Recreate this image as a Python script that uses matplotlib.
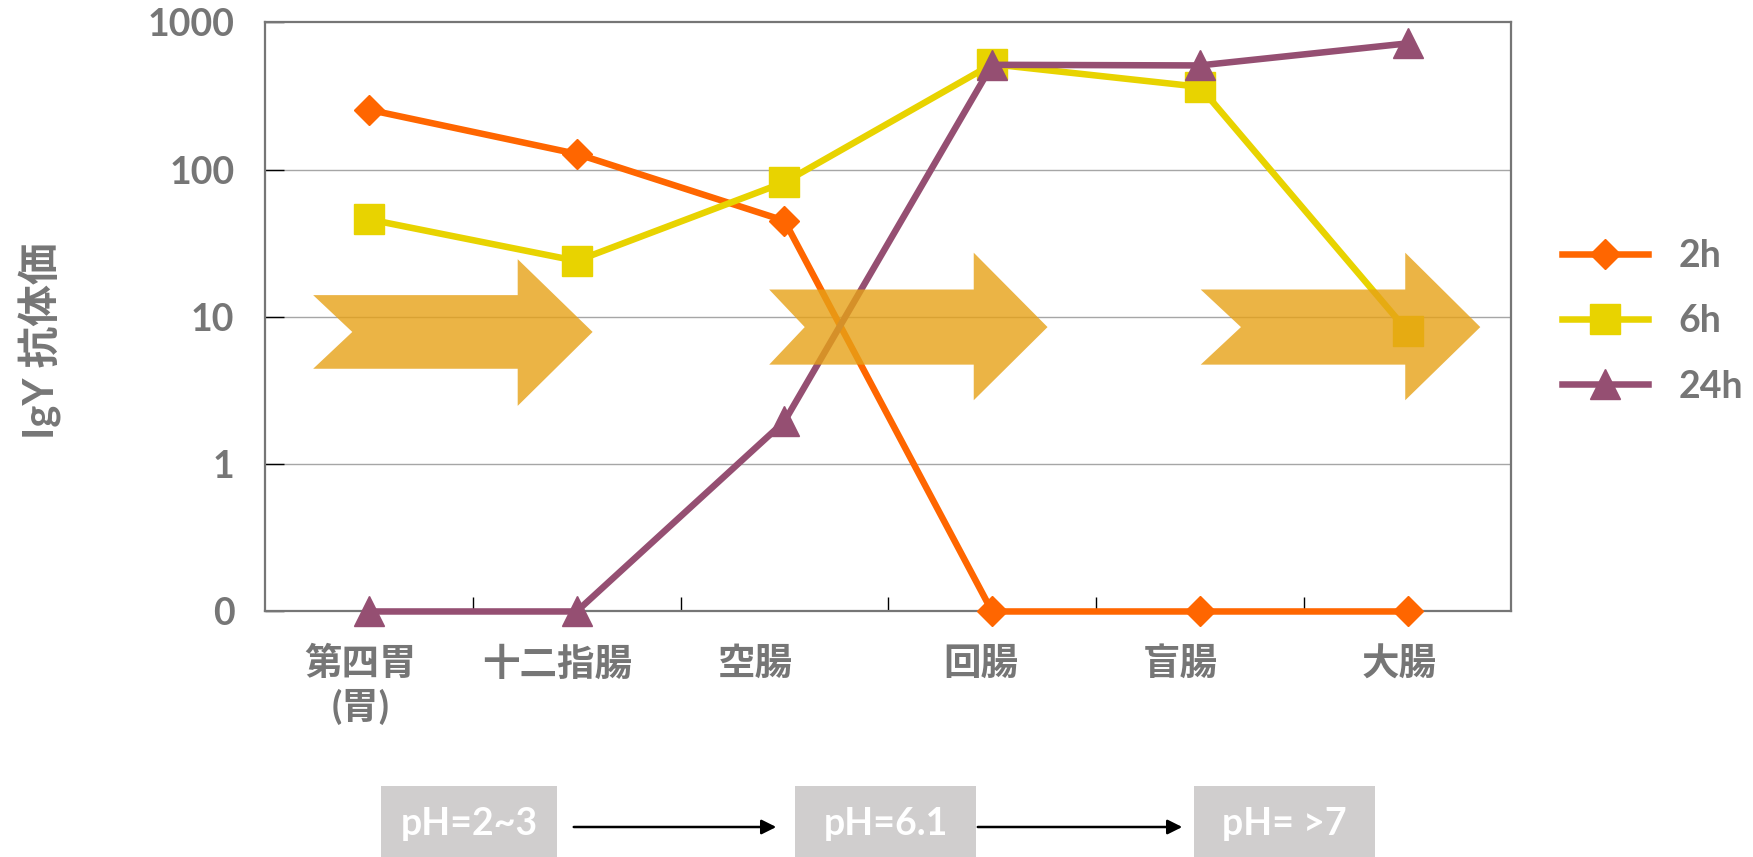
import matplotlib
matplotlib.use("Agg")
import matplotlib.pyplot as plt
from matplotlib.patches import Polygon, Rectangle, FancyArrowPatch
import numpy as np

plt.rcParams['font.family'] = ['Lato', 'Noto Sans CJK JP', 'DejaVu Sans']
plt.rcParams['font.weight'] = 'bold'

# data (0.1 = the "0" line at the bottom of the log axis)
categories = ['第四胃\n(胃)', '十二指腸', '空腸', '回腸', '盲腸', '大腸']
h2 = [255, 128, 45, 0.1, 0.1, 0.1]
h6 = [46, 24, 82, 520, 365, 8]
h24 = [0.1, 0.1, 1.95, 515, 510, 720]
series_names = ['2h', '6h', '24h']
ytick_vals = [0.1, 1, 10, 100, 1000]
ytick_labels = ['0', '1', '10', '100', '1000']
ph_labels = ['pH=2~3', 'pH=6.1', 'pH= >7']

gray = '#767676'
colors = ['#FF6600', '#E8D300', '#954F72']
markers = ['D', 's', '^']
msizes = [15, 21, 22]
# the category labels in the original sit a little left of the category centres
label_shift = [-6, -14, -21, -8, -14, -6]

fig = plt.figure(figsize=(17.53, 8.57), dpi=100)
ax = fig.add_axes([0.1512, 0.2865, 0.711, 0.6874])

x = np.arange(len(categories))
for vals, name, c, m, ms in zip([h2, h6, h24], series_names, colors, markers, msizes):
    ax.plot(x, vals, color=c, lw=4.7, marker=m, markersize=ms, label=name,
            clip_on=False, zorder=3)

ax.set_yscale('log')
ax.set_ylim(0.1, 1000)
ax.set_xlim(-0.5, len(categories) - 0.5)
ax.set_yticks(ytick_vals)
ax.set_yticklabels(ytick_labels)
ax.yaxis.set_minor_locator(matplotlib.ticker.NullLocator())
ax.set_xticks(x)
ax.set_xticklabels([])
ax.set_xticks(np.arange(len(categories) - 1) + 0.5, minor=True)
for i, (lab, dx) in enumerate(zip(categories, label_shift)):
    ax.annotate(lab, xy=(i, 0), xycoords=('data', 'axes fraction'),
                xytext=(dx, -25), textcoords='offset points', ha='center', va='top',
                fontsize=27, color=gray, linespacing=1.25)

ax.tick_params(axis='y', direction='in', length=14, width=1, color='black',
               labelsize=27, labelcolor=gray, pad=22)
ax.tick_params(axis='x', which='major', length=0)
ax.tick_params(axis='x', which='minor', direction='in', length=10, width=1, color='black')

for y in [1, 10, 100]:
    ax.axhline(y, color='#A6A6A6', lw=1, zorder=1)
for s in ax.spines.values():
    s.set_color(gray)
    s.set_linewidth(1.6)

# big notched arrows (axes fraction)
arrows = [(0.0386, 0.070, 0.2027, 0.2628, 0.412, 0.537, 0.349, 0.598),
          (0.4045, 0.433, 0.5686, 0.6278, 0.419, 0.5465, 0.3586, 0.609),
          (0.7507, 0.783, 0.9148, 0.975, 0.419, 0.5465, 0.3586, 0.609)]
for x0, xn, xh, xt, yb, yt, hb, ht in arrows:
    ym = (yb + yt) / 2
    pts = [(x0, yt), (xh, yt), (xh, ht), (xt, ym), (xh, hb), (xh, yb), (x0, yb), (xn, ym)]
    ax.add_patch(Polygon(pts, closed=True, transform=ax.transAxes,
                         facecolor='#E6A117', alpha=0.8, edgecolor='none', zorder=4))

leg = fig.legend(loc='center left', bbox_to_anchor=(0.891, 0.625), frameon=False,
                 fontsize=27, handlelength=2.3, handletextpad=0.8, labelspacing=0.83,
                 borderpad=0, borderaxespad=0)
for t in leg.get_texts():
    t.set_color(gray)

fig.text(0.023, 0.602, 'IgY 抗体価', rotation=90, ha='center', va='center',
         fontsize=30, color=gray)

# pH boxes and connecting arrows (figure fraction)
boxes = [(0.2173, 0.1004), (0.4535, 0.1033), (0.6811, 0.1033)]
for (bx, bw), lab in zip(boxes, ph_labels):
    fig.patches.append(Rectangle((bx, 0), bw, 0.0828, transform=fig.transFigure,
                                 facecolor='#D0CECE', edgecolor='none'))
    fig.text(bx + bw / 2, 0.038, lab, ha='center', va='center', fontsize=27, color='white')
for xs, xe in [(0.3257, 0.4444), (0.5562, 0.6760)]:
    fig.add_artist(FancyArrowPatch((xs, 0.035), (xe, 0.035), transform=fig.transFigure,
                                   arrowstyle='-|>', mutation_scale=22, lw=1.8, color='black'))

fig.savefig('out.png', dpi=100)
